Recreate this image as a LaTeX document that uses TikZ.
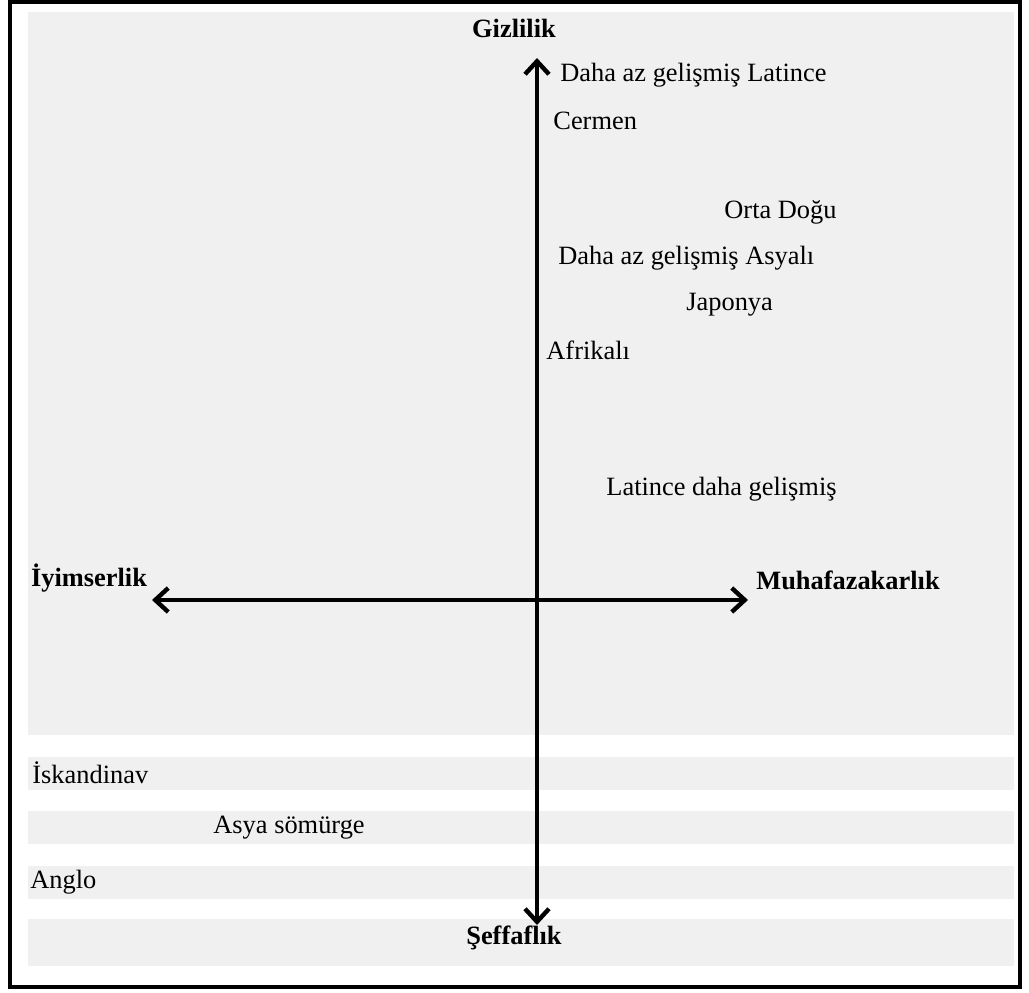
\documentclass[tikz,border=0pt]{standalone}
\usepackage{fontspec}
\setmainfont{Liberation Serif}
\usepackage{tikz}
\usetikzlibrary{arrows.meta,positioning}
\definecolor{bandgray}{HTML}{F0F0F0}

\begin{document}
\begin{tikzpicture}[x=0.5pt,y=-0.5pt]
\tikzset{band/.style={fill=bandgray,draw=none}}
\tikzset{axis/.style={line width=2.2pt,{Straight Barb[length=6.5pt,width=12pt,line width=2.2pt]}-{Straight Barb[length=6.5pt,width=12pt,line width=2.2pt]}}}
\tikzset{pole/.style={font=\bfseries\fontsize{13.2}{15}\selectfont,inner sep=1pt}}
\tikzset{culture/.style={font=\fontsize{13.2}{15}\selectfont,anchor=west,inner sep=0pt}}
\useasboundingbox (0,0) rectangle (1029,992);
% background and bands
\fill[band] (28,12) rectangle (1014,735);
\fill[band] (28,757) rectangle (1014,790);
\fill[band] (28,811) rectangle (1014,844);
\fill[band] (28,866) rectangle (1014,899);
\fill[band] (28,919) rectangle (1014,966);
\draw[line width=2pt] (10,2) rectangle (1020,987);
% axes
\coordinate (top) at (537,58);
\coordinate (bottom) at (537,925);
\coordinate (left) at (152,600);
\coordinate (right) at (748,600);
\draw[axis] (bottom) -- (top);
\draw[axis] (left) -- (right);
% poles
\node[pole] (gizlilik) at (514,28) {Gizlilik};
\node[pole] (seffaflik) at (514,938) {Şeffaflık};
\node[pole] (iyimserlik) at (89,578) {İyimserlik};
\node[pole] (muhafazakarlik) at (848,580) {Muhafazakarlık};
% cultures
\node[culture] (latinceaz) at (560,75) {Daha az gelişmiş Latince};
\node[culture] (cermen) at (553,121) {Cermen};
\node[culture] (ortadogu) at (724,212) {Orta Doğu};
\node[culture] (asyaliaz) at (558,258) {Daha az gelişmiş Asyalı};
\node[culture] (japonya) at (686,305) {Japonya};
\node[culture] (afrikali) at (546,350) {Afrikalı};
\node[culture] (latincegelismis) at (606,489) {Latince daha gelişmiş};
\node[culture] (iskandinav) at (32,773) {İskandinav};
\node[culture] (asyasomurge) at (213,828) {Asya sömürge};
\node[culture] (anglo) at (30,882) {Anglo};
\end{tikzpicture}
\end{document}
